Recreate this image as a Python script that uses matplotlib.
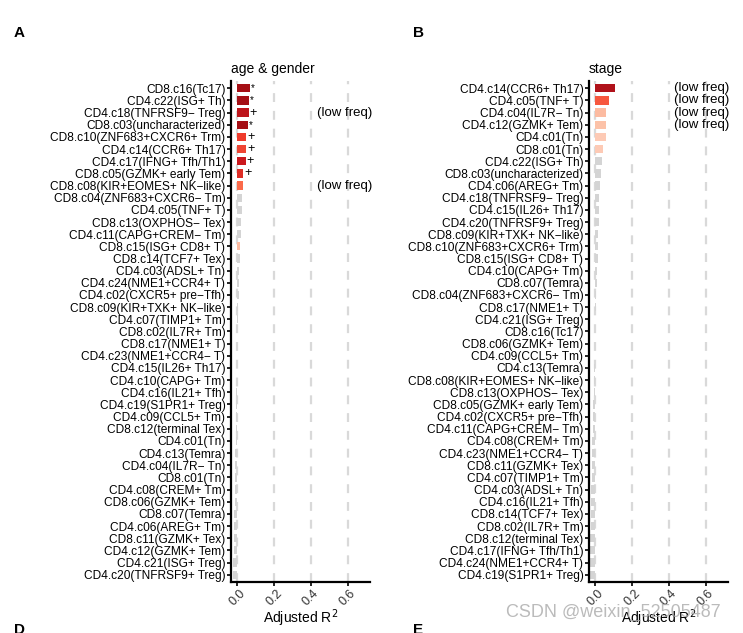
import numpy as np
import matplotlib.pyplot as plt

plt.rcParams['font.family'] = ['Liberation Sans', 'DejaVu Sans']

# Panel A: age & gender
clusters_a = [
    "CD8.c16(Tc17)", "CD4.c22(ISG+ Th)", "CD4.c18(TNFRSF9\u2212 Treg)",
    "CD8.c03(uncharacterized)", "CD8.c10(ZNF683+CXCR6+ Trm)", "CD4.c14(CCR6+ Th17)",
    "CD4.c17(IFNG+ Tfh/Th1)", "CD8.c05(GZMK+ early Tem)", "CD8.c08(KIR+EOMES+ NK\u2212like)",
    "CD8.c04(ZNF683+CXCR6\u2212 Tm)", "CD4.c05(TNF+ T)", "CD8.c13(OXPHOS\u2212 Tex)",
    "CD4.c11(CAPG+CREM\u2212 Tm)", "CD8.c15(ISG+ CD8+ T)", "CD8.c14(TCF7+ Tex)",
    "CD4.c03(ADSL+ Tn)", "CD4.c24(NME1+CCR4+ T)", "CD4.c02(CXCR5+ pre\u2212Tfh)",
    "CD8.c09(KIR+TXK+ NK\u2212like)", "CD4.c07(TIMP1+ Tm)", "CD8.c02(IL7R+ Tm)",
    "CD8.c17(NME1+ T)", "CD4.c23(NME1+CCR4\u2212 T)", "CD4.c15(IL26+ Th17)",
    "CD4.c10(CAPG+ Tm)", "CD4.c16(IL21+ Tfh)", "CD4.c19(S1PR1+ Treg)",
    "CD4.c09(CCL5+ Tm)", "CD8.c12(terminal Tex)", "CD4.c01(Tn)", "CD4.c13(Temra)",
    "CD4.c04(IL7R\u2212 Tn)", "CD8.c01(Tn)", "CD4.c08(CREM+ Tm)", "CD8.c06(GZMK+ Tem)",
    "CD8.c07(Temra)", "CD4.c06(AREG+ Tm)", "CD8.c11(GZMK+ Tex)", "CD4.c12(GZMK+ Tem)",
    "CD4.c21(ISG+ Treg)", "CD4.c20(TNFRSF9+ Treg)",
]
r2_a = [
    0.067, 0.065, 0.063, 0.060, 0.048, 0.048, 0.045, 0.032, 0.029, 0.026,
    0.024, 0.021, 0.018, 0.016, 0.015, 0.012, 0.009, 0.007, 0.005, 0.003,
    0.001, -0.001, -0.002, -0.003, -0.004, -0.005, -0.006, -0.007, -0.008, -0.009,
    -0.010, -0.011, -0.012, -0.013, -0.014, -0.015, -0.016, -0.017, -0.019, -0.021,
    -0.023,
]
sig_a = ["*", "*", "+", "*", "+", "+", "+", "+"]
lowfreq_a = ["CD4.c18(TNFRSF9\u2212 Treg)", "CD8.c08(KIR+EOMES+ NK\u2212like)"]

# Panel B: stage
clusters_b = [
    "CD4.c14(CCR6+ Th17)", "CD4.c05(TNF+ T)", "CD4.c04(IL7R\u2212 Tn)", "CD4.c12(GZMK+ Tem)",
    "CD4.c01(Tn)", "CD8.c01(Tn)", "CD4.c22(ISG+ Th)", "CD8.c03(uncharacterized)",
    "CD4.c06(AREG+ Tm)", "CD4.c18(TNFRSF9\u2212 Treg)", "CD4.c15(IL26+ Th17)",
    "CD4.c20(TNFRSF9+ Treg)", "CD8.c09(KIR+TXK+ NK\u2212like)", "CD8.c10(ZNF683+CXCR6+ Trm)",
    "CD8.c15(ISG+ CD8+ T)", "CD4.c10(CAPG+ Tm)", "CD8.c07(Temra)",
    "CD8.c04(ZNF683+CXCR6\u2212 Tm)", "CD8.c17(NME1+ T)", "CD4.c21(ISG+ Treg)",
    "CD8.c16(Tc17)", "CD8.c06(GZMK+ Tem)", "CD4.c09(CCL5+ Tm)", "CD4.c13(Temra)",
    "CD8.c08(KIR+EOMES+ NK\u2212like)", "CD8.c13(OXPHOS\u2212 Tex)", "CD8.c05(GZMK+ early Tem)",
    "CD4.c02(CXCR5+ pre\u2212Tfh)", "CD4.c11(CAPG+CREM\u2212 Tm)", "CD4.c08(CREM+ Tm)",
    "CD4.c23(NME1+CCR4\u2212 T)", "CD8.c11(GZMK+ Tex)", "CD4.c07(TIMP1+ Tm)",
    "CD4.c03(ADSL+ Tn)", "CD4.c16(IL21+ Tfh)", "CD8.c14(TCF7+ Tex)", "CD8.c02(IL7R+ Tm)",
    "CD8.c12(terminal Tex)", "CD4.c17(IFNG+ Tfh/Th1)", "CD4.c24(NME1+CCR4+ T)",
    "CD4.c19(S1PR1+ Treg)",
]
r2_b = [
    0.107, 0.075, 0.060, 0.058, 0.058, 0.040, 0.038, 0.033, 0.028, 0.023,
    0.022, 0.020, 0.016, 0.015, 0.014, 0.011, 0.008, 0.006, 0.003, 0.001,
    -0.001, -0.003, -0.004, -0.006, -0.008, -0.009, -0.011, -0.012, -0.014, -0.015,
    -0.017, -0.018, -0.019, -0.021, -0.022, -0.023, -0.025, -0.026, -0.027, -0.028,
    -0.030,
]
sig_b = []
lowfreq_b = ["CD4.c14(CCR6+ Th17)", "CD4.c05(TNF+ T)", "CD4.c04(IL7R\u2212 Tn)",
             "CD4.c12(GZMK+ Tem)"]

# bar colours (significant ones in reds, rest grey)
grey = "#D4D4D4"
cols_a = ["#A50F15", "#A50F15", "#BD151B", "#A50F15", "#EF3B2C", "#EF4533",
          "#CB181D", "#DE2D26", "#FB6A4A"] + [grey] * 4 + ["#FCBBA1"] + [grey] * 27
cols_b = ["#B0121A", "#F7573E", "#FCBBA1", "#FCC2A8", "#FDCAB5", "#FDCAB5"] + [grey] * 35


def panel(ax, names, vals, cols, sig, lowfreq, title):
    y = np.arange(len(names))
    for g in [0.0, 0.2, 0.4, 0.6]:
        ax.axvline(g, color="#D9D9D9", lw=1.6, ls=(0, (4, 4)), zorder=0)
    ax.barh(y, vals, height=0.68, color=cols, zorder=2)
    for i, s in enumerate(sig):
        ax.text(vals[i] + 0.004, y[i], s, fontsize=9 if s == "+" else 7,
                va="center", ha="left")
    for n in lowfreq:
        ax.text(0.58, names.index(n), "(low freq)", fontsize=9.5,
                va="center", ha="center")
    ax.set_yticks(y)
    ax.set_yticklabels(names, fontsize=8.6)
    ax.set_ylim(len(names) - 0.4, -0.6)
    ax.set_xlim(-0.034, 0.72)
    ax.set_xticks([0.0, 0.2, 0.4, 0.6])
    ax.set_xticklabels(["0.0", "0.2", "0.4", "0.6"], rotation=45, ha="center",
                       fontsize=9, color="#333333")
    ax.set_xlabel("Adjusted R$^2$", fontsize=10, labelpad=-1)
    ax.set_title(title, fontsize=10, loc="left", pad=6)
    for sp in ["top", "right"]:
        ax.spines[sp].set_visible(False)
    for sp in ["left", "bottom"]:
        ax.spines[sp].set_linewidth(1.6)
    ax.tick_params(axis="y", length=3, width=1.2, pad=1)
    ax.tick_params(axis="x", length=3, width=1.2, pad=1)


fig = plt.figure(figsize=(7.43, 6.33), dpi=100)
ax1 = fig.add_axes([0.3109, 0.0806, 0.187, 0.7915])
ax2 = fig.add_axes([0.7927, 0.0806, 0.187, 0.7915])
panel(ax1, clusters_a, r2_a, cols_a, sig_a, lowfreq_a, "age & gender")
panel(ax2, clusters_b, r2_b, cols_b, sig_b, lowfreq_b, "stage")

for lab, xx, yy in [("A", 14, 33), ("B", 413, 33), ("D", 14, 630), ("E", 413, 630)]:
    fig.text(xx / 743, 1 - yy / 633, lab, fontsize=11, fontweight="bold",
             ha="left", va="center")

fig.text(613 / 743, 1 - 612 / 633, "CSDN @weixin_52505487", fontsize=13,
         color="#AAAAAA", alpha=0.8, ha="center", va="center")

plt.savefig("out.png", dpi=100)
